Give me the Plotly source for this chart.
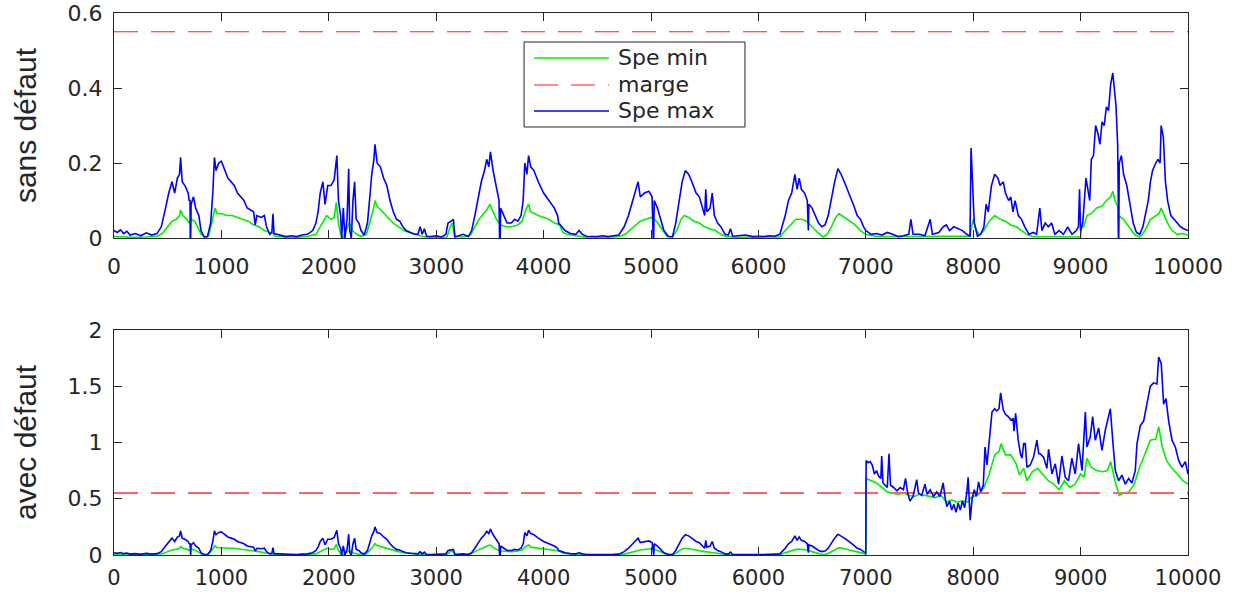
import plotly.graph_objects as go
from plotly.subplots import make_subplots

# --- Spe max (upper envelope), healthy run ---
sain_x_max = [0, 30, 60, 90, 120, 150, 200, 250, 300, 350, 400, 440, 480, 510, 540, 565, 590, 610, 620, 635,
              660, 690, 700, 708, 710, 714, 718, 740, 760, 790, 810, 840, 870, 900, 920, 935, 950, 975, 1000, 1030,
              1060, 1090, 1120, 1150, 1180, 1210, 1240, 1270, 1300, 1315, 1330, 1370, 1400, 1420, 1450, 1470, 1480,
              1490, 1550, 1600, 1650, 1700, 1750, 1800, 1850, 1880, 1900, 1920, 1945, 1965, 1990, 2020, 2050, 2075,
              2090, 2110, 2120, 2135, 2150, 2170, 2185, 2195, 2210, 2225, 2240, 2255, 2280, 2300, 2330, 2360, 2385,
              2400, 2420, 2430, 2450, 2480, 2510, 2540, 2570, 2600, 2630, 2660, 2690, 2720, 2760, 2800, 2830, 2850,
              2870, 2890, 2910, 2950, 3000, 3050, 3090, 3110, 3140, 3160, 3175, 3200, 3250, 3300, 3330, 3360, 3390,
              3420, 3450, 3470, 3490, 3505, 3530, 3555, 3585, 3590, 3596, 3600, 3630, 3660, 3700, 3730, 3760, 3790,
              3810, 3825, 3845, 3860, 3880, 3910, 3950, 4000, 4050, 4100, 4130, 4140, 4170, 4200, 4250, 4300, 4330,
              4360, 4400, 4450, 4500, 4550, 4600, 4650, 4700, 4750, 4790, 4830, 4860, 4880, 4900, 4940, 4980, 5010,
              5020, 5025, 5030, 5060, 5090, 5120, 5160, 5200, 5230, 5260, 5290, 5320, 5350, 5380, 5420, 5450, 5480,
              5500, 5510, 5520, 5550, 5570, 5590, 5620, 5650, 5690, 5720, 5740, 5760, 5820, 5880, 5950, 6000, 6050,
              6100, 6150, 6200, 6220, 6250, 6280, 6310, 6340, 6360, 6380, 6400, 6430, 6455, 6465, 6470, 6500, 6530,
              6560, 6590, 6620, 6650, 6680, 6710, 6740, 6770, 6800, 6830, 6860, 6890, 6920, 6950, 6980, 7000, 7050,
              7100, 7150, 7200, 7250, 7300, 7350, 7400, 7420, 7440, 7500, 7550, 7600, 7620, 7680, 7720, 7750, 7780,
              7820, 7860, 7900, 7940, 7970, 7980, 7995, 8010, 8040, 8070, 8100, 8120, 8140, 8170, 8200, 8230, 8250,
              8280, 8300, 8330, 8350, 8370, 8390, 8420, 8450, 8480, 8520, 8560, 8590, 8620, 8640, 8670, 8700, 8730,
              8760, 8800, 8840, 8880, 8920, 8960, 8980, 8990, 9000, 9020, 9050, 9070, 9085, 9100, 9120, 9140, 9160,
              9180, 9200, 9220, 9240, 9260, 9280, 9300, 9310, 9330, 9345, 9350, 9355, 9360, 9380, 9400, 9430, 9460,
              9490, 9520, 9550, 9580, 9610, 9630, 9650, 9670, 9700, 9720, 9740, 9750, 9770, 9790, 9810, 9840, 9870,
              9900, 9930, 9960, 10000]
sain_max = [0.02, 0.015, 0.022, 0.012, 0.018, 0.008, 0.012, 0.006, 0.014, 0.008, 0.012, 0.03, 0.08, 0.12, 0.15,
            0.12, 0.16, 0.17, 0.215, 0.15, 0.14, 0.12, 0.10, 0.10, 0.0, 0.0, 0.09, 0.11, 0.08, 0.06, 0.02, 0.003,
            0.004, 0.04, 0.12, 0.215, 0.18, 0.20, 0.205, 0.18, 0.16, 0.15, 0.14, 0.12, 0.11, 0.10, 0.08, 0.075,
            0.07, 0.035, 0.06, 0.055, 0.06, 0.03, 0.01, 0.015, 0.065, 0.012, 0.008, 0.004, 0.006, 0.004, 0.008,
            0.01, 0.02, 0.04, 0.07, 0.12, 0.15, 0.09, 0.14, 0.14, 0.155, 0.22, 0.10, 0.06, 0.0, 0.08, 0.0, 0.05,
            0.185, 0.02, 0.0, 0.10, 0.15, 0.05, 0.04, 0.02, 0.008, 0.04, 0.12, 0.17, 0.21, 0.25, 0.20, 0.19, 0.16,
            0.14, 0.10, 0.07, 0.05, 0.045, 0.03, 0.02, 0.015, 0.01, 0.01, 0.03, 0.01, 0.025, 0.005, 0.004, 0.006,
            0.003, 0.01, 0.04, 0.045, 0.05, 0.003, 0.005, 0.01, 0.004, 0.02, 0.06, 0.11, 0.15, 0.18, 0.21, 0.19,
            0.23, 0.18, 0.14, 0.10, 0.0, 0.0, 0.08, 0.06, 0.04, 0.04, 0.05, 0.045, 0.06, 0.10, 0.20, 0.17, 0.22,
            0.19, 0.18, 0.15, 0.12, 0.10, 0.08, 0.06, 0.04, 0.03, 0.02, 0.012, 0.01, 0.02, 0.01, 0.005, 0.004,
            0.004, 0.006, 0.004, 0.006, 0.008, 0.03, 0.06, 0.10, 0.13, 0.15, 0.11, 0.12, 0.125, 0.11, 0.0, 0.0,
            0.10, 0.08, 0.05, 0.02, 0.005, 0.003, 0.04, 0.09, 0.15, 0.18, 0.17, 0.15, 0.12, 0.11, 0.08, 0.06, 0.13,
            0.07, 0.08, 0.12, 0.06, 0.04, 0.03, 0.01, 0.008, 0.025, 0.005, 0.006, 0.008, 0.004, 0.005, 0.004,
            0.006, 0.005, 0.01, 0.03, 0.06, 0.10, 0.12, 0.17, 0.13, 0.16, 0.13, 0.12, 0.10, 0.02, 0.09, 0.08, 0.06,
            0.04, 0.03, 0.035, 0.06, 0.11, 0.15, 0.185, 0.17, 0.15, 0.13, 0.11, 0.085, 0.06, 0.05, 0.03, 0.02,
            0.01, 0.012, 0.008, 0.015, 0.01, 0.004, 0.006, 0.01, 0.05, 0.01, 0.01, 0.006, 0.05, 0.01, 0.015, 0.03,
            0.035, 0.02, 0.03, 0.025, 0.02, 0.01, 0.005, 0.24, 0.12, 0.04, 0.005, 0.01, 0.03, 0.09, 0.07, 0.14,
            0.17, 0.16, 0.14, 0.15, 0.12, 0.10, 0.11, 0.07, 0.10, 0.06, 0.05, 0.03, 0.01, 0.015, 0.01, 0.08, 0.02,
            0.04, 0.03, 0.04, 0.01, 0.02, 0.01, 0.03, 0.01, 0.02, 0.03, 0.13, 0.02, 0.04, 0.16, 0.12, 0.10, 0.21,
            0.22, 0.30, 0.28, 0.25, 0.31, 0.30, 0.35, 0.34, 0.41, 0.44, 0.41, 0.35, 0.25, 0.0, 0.0, 0.20, 0.22,
            0.17, 0.14, 0.09, 0.04, 0.015, 0.01, 0.03, 0.07, 0.10, 0.15, 0.18, 0.20, 0.21, 0.20, 0.30, 0.27, 0.15,
            0.10, 0.06, 0.05, 0.04, 0.03, 0.025, 0.02]

# --- Spe min (lower envelope), healthy run ---
sain_x_min = [0, 100, 200, 300, 400, 450, 500, 540, 580, 610, 620, 640, 680, 700, 720, 750, 780, 810, 850, 880,
              910, 940, 960, 1000, 1050, 1100, 1150, 1200, 1250, 1300, 1350, 1400, 1450, 1480, 1500, 1600, 1700,
              1800, 1880, 1920, 1950, 1980, 2020, 2050, 2070, 2090, 2110, 2130, 2160, 2190, 2220, 2260, 2300, 2350,
              2380, 2410, 2430, 2450, 2500, 2550, 2600, 2650, 2700, 2750, 2800, 2850, 2900, 3000, 3100, 3130, 3150,
              3170, 3250, 3320, 3360, 3400, 3440, 3470, 3500, 3530, 3560, 3600, 3650, 3700, 3760, 3800, 3840, 3860,
              3880, 3950, 4000, 4050, 4100, 4150, 4180, 4220, 4300, 4400, 4550, 4700, 4760, 4800, 4850, 4900, 4950,
              5000, 5050, 5100, 5150, 5200, 5240, 5280, 5310, 5350, 5400, 5450, 5500, 5550, 5600, 5650, 5700, 5800,
              6000, 6200, 6250, 6300, 6350, 6400, 6450, 6500, 6550, 6600, 6640, 6680, 6720, 6750, 6800, 6850, 6900,
              6950, 7000, 7100, 7300, 7500, 7700, 7900, 7970, 7985, 8000, 8030, 8060, 8100, 8150, 8200, 8250, 8300,
              8350, 8400, 8450, 8500, 8550, 8700, 8900, 9000, 9010, 9030, 9060, 9100, 9150, 9200, 9240, 9280, 9300,
              9320, 9345, 9350, 9355, 9400, 9450, 9500, 9550, 9600, 9650, 9700, 9730, 9750, 9780, 9810, 9850, 9900,
              9950, 10000]
sain_min = [0.004, 0.002, 0.002, 0.003, 0.005, 0.012, 0.03, 0.045, 0.05, 0.06, 0.075, 0.06, 0.05, 0.04, 0.05,
            0.045, 0.03, 0.01, 0.002, 0.005, 0.04, 0.08, 0.065, 0.065, 0.06, 0.06, 0.055, 0.05, 0.045, 0.035, 0.03,
            0.02, 0.015, 0.012, 0.005, 0.002, 0.002, 0.004, 0.01, 0.03, 0.045, 0.06, 0.05, 0.055, 0.095, 0.04,
            0.01, 0.0, 0.02, 0.04, 0.02, 0.01, 0.004, 0.01, 0.04, 0.07, 0.10, 0.085, 0.07, 0.055, 0.04, 0.03, 0.02,
            0.015, 0.01, 0.006, 0.003, 0.002, 0.003, 0.03, 0.04, 0.005, 0.003, 0.008, 0.03, 0.05, 0.065, 0.075,
            0.09, 0.07, 0.05, 0.035, 0.03, 0.03, 0.035, 0.045, 0.08, 0.09, 0.07, 0.06, 0.055, 0.05, 0.04, 0.035,
            0.015, 0.01, 0.006, 0.002, 0.002, 0.004, 0.01, 0.02, 0.035, 0.045, 0.05, 0.055, 0.045, 0.025, 0.004,
            0.003, 0.02, 0.05, 0.06, 0.055, 0.045, 0.04, 0.03, 0.025, 0.02, 0.01, 0.004, 0.002, 0.002, 0.003, 0.02,
            0.035, 0.05, 0.05, 0.045, 0.03, 0.015, 0.003, 0.01, 0.03, 0.055, 0.065, 0.055, 0.045, 0.035, 0.02,
            0.01, 0.004, 0.003, 0.004, 0.005, 0.004, 0.005, 0.03, 0.05, 0.02, 0.008, 0.02, 0.045, 0.06, 0.05,
            0.045, 0.035, 0.03, 0.02, 0.01, 0.004, 0.003, 0.002, 0.003, 0.03, 0.03, 0.06, 0.065, 0.08, 0.085, 0.10,
            0.11, 0.125, 0.10, 0.085, 0.0, 0.06, 0.05, 0.03, 0.01, 0.003, 0.02, 0.05, 0.06, 0.065, 0.08, 0.06,
            0.04, 0.02, 0.01, 0.012, 0.008]

# --- faulty run: identical up to t = 7000, then the fault appears ---
defaut_x_max = [7000, 7003, 7020, 7040, 7060, 7080, 7100, 7120, 7140, 7148, 7160, 7180, 7200, 7216, 7230, 7260,
                7290, 7320, 7350, 7370, 7390, 7411, 7440, 7474, 7490, 7520, 7551, 7570, 7600, 7630, 7660, 7690,
                7720, 7740, 7755, 7780, 7800, 7820, 7840, 7860, 7880, 7900, 7920, 7940, 7953, 7972, 7990, 8010,
                8030, 8050, 8070, 8094, 8110, 8128, 8150, 8175, 8200, 8220, 8240, 8255, 8280, 8300, 8326, 8350,
                8372, 8380, 8395, 8419, 8440, 8454, 8470, 8485, 8500, 8531, 8562, 8593, 8610, 8624, 8655, 8686,
                8702, 8733, 8764, 8795, 8826, 8857, 8888, 8919, 8950, 8981, 9013, 9044, 9059, 9090, 9112, 9137,
                9168, 9199, 9230, 9261, 9277, 9299, 9323, 9354, 9385, 9416, 9447, 9478, 9509, 9525, 9556, 9587,
                9618, 9649, 9680, 9711, 9727, 9751, 9773, 9795, 9820, 9851, 9882, 9913, 9944, 9975, 10000]
defaut_max = [0.02, 0.84, 0.82, 0.83, 0.80, 0.72, 0.75, 0.70, 0.68, 0.88, 0.64, 0.62, 0.60, 0.90, 0.62, 0.60,
              0.57, 0.60, 0.58, 0.68, 0.55, 0.48, 0.52, 0.67, 0.55, 0.53, 0.63, 0.54, 0.58, 0.52, 0.56, 0.52, 0.64,
              0.50, 0.43, 0.48, 0.40, 0.45, 0.38, 0.46, 0.40, 0.48, 0.42, 0.55, 0.69, 0.31, 0.50, 0.58, 0.52, 0.65,
              0.56, 0.62, 0.96, 0.80, 1.02, 1.27, 1.30, 1.28, 1.30, 1.44, 1.29, 1.25, 1.23, 1.20, 1.21, 1.10, 1.26,
              1.02, 0.90, 0.86, 0.99, 0.99, 0.78, 0.80, 0.87, 1.02, 0.90, 0.90, 0.87, 0.77, 0.94, 0.72, 0.81, 0.63,
              0.88, 0.69, 0.66, 0.86, 0.72, 0.99, 0.75, 1.27, 0.96, 1.05, 1.23, 1.02, 1.13, 0.93, 1.11, 1.22, 1.30,
              1.02, 0.75, 0.66, 0.71, 0.63, 0.68, 0.64, 0.75, 0.99, 1.15, 1.19, 1.36, 1.50, 1.53, 1.52, 1.76, 1.70,
              1.34, 1.39, 1.19, 1.02, 0.96, 0.84, 0.78, 0.83, 0.72]

defaut_x_min = [7000, 7003, 7050, 7100, 7150, 7200, 7250, 7300, 7350, 7400, 7450, 7500, 7550, 7600, 7650, 7700,
                7750, 7800, 7850, 7900, 7950, 7980, 8050, 8100, 8150, 8200, 8240, 8260, 8300, 8350, 8400, 8430,
                8470, 8500, 8550, 8600, 8650, 8700, 8750, 8800, 8850, 8900, 8950, 9000, 9030, 9060, 9100, 9150,
                9200, 9250, 9280, 9320, 9360, 9400, 9450, 9500, 9550, 9600, 9650, 9700, 9727, 9760, 9800, 9850,
                9900, 9950, 10000]
defaut_min = [0.01, 0.68, 0.66, 0.64, 0.60, 0.56, 0.55, 0.54, 0.55, 0.53, 0.52, 0.54, 0.53, 0.52, 0.51, 0.53,
              0.47, 0.49, 0.47, 0.48, 0.47, 0.51, 0.54, 0.60, 0.72, 0.89, 0.92, 0.99, 0.89, 0.89, 0.81, 0.71, 0.77,
              0.66, 0.74, 0.77, 0.71, 0.66, 0.63, 0.58, 0.66, 0.60, 0.63, 0.72, 0.69, 0.86, 0.78, 0.75, 0.74, 0.75,
              0.83, 0.66, 0.53, 0.55, 0.56, 0.63, 0.78, 0.90, 1.02, 1.03, 1.14, 0.96, 0.84, 0.77, 0.72, 0.66, 0.63]

marge = 0.55
x_range = [0, 10000]
x_ticks = list(range(0, 10001, 1000))
x_labels = [str(v) for v in x_ticks]
y_ticks_haut = [0, 0.2, 0.4, 0.6]
y_labels_haut = ["0", "0.2", "0.4", "0.6"]
y_ticks_bas = [0, 0.5, 1, 1.5, 2]
y_labels_bas = ["0", "0.5", "1", "1.5", "2"]
legend_labels = ["Spe min", "marge", "Spe max"]

# faulty series = shared healthy part before 7000 + fault part
av_x_max = [x for x in sain_x_max if x < 7000] + defaut_x_max
av_max = [v for x, v in zip(sain_x_max, sain_max) if x < 7000] + defaut_max
av_x_min = [x for x in sain_x_min if x < 7000] + defaut_x_min
av_min = [v for x, v in zip(sain_x_min, sain_min) if x < 7000] + defaut_min

GREEN = "#00f000"
BLUE = "#0000ff"
RED = "#ff1a1a"
TXT = "#262626"
DASH = "24px,13px"

fig = make_subplots(rows=2, cols=1, vertical_spacing=0.1695)

fig.add_trace(go.Scatter(x=sain_x_min, y=sain_min, mode="lines", name="Spe min",
                         line=dict(color=GREEN, width=1.6)), row=1, col=1)
fig.add_trace(go.Scatter(x=x_range, y=[marge, marge], mode="lines", name="marge",
                         line=dict(color=RED, width=1.2, dash=DASH)), row=1, col=1)
fig.add_trace(go.Scatter(x=sain_x_max, y=sain_max, mode="lines", name="Spe max",
                         line=dict(color=BLUE, width=1.6)), row=1, col=1)

fig.add_trace(go.Scatter(x=av_x_min, y=av_min, mode="lines", name="Spe min",
                         line=dict(color=GREEN, width=1.6)), row=2, col=1)
fig.add_trace(go.Scatter(x=x_range, y=[marge, marge], mode="lines", name="marge",
                         line=dict(color="#ff6464", width=2, dash=DASH)), row=2, col=1)
fig.add_trace(go.Scatter(x=av_x_max, y=av_max, mode="lines", name="Spe max",
                         line=dict(color=BLUE, width=1.6)), row=2, col=1)

axis_common = dict(showline=True, linecolor=TXT, linewidth=1, mirror="ticks", ticks="inside",
                   ticklen=8, tickcolor=TXT, showgrid=False, zeroline=False, automargin=False)
tick_font = dict(family="DejaVu Sans", size=22, color=TXT)
tick_font_bas = dict(family="DejaVu Sans", size=21, color=TXT)

fig.update_xaxes(range=x_range, tickvals=x_ticks, ticktext=x_labels, ticklabelstandoff=9,
                 tickfont=tick_font, row=1, col=1, **axis_common)
fig.update_xaxes(range=x_range, tickvals=x_ticks, ticktext=x_labels, ticklabelstandoff=4,
                 tickfont=tick_font_bas, row=2, col=1, **axis_common)

title_font = dict(family="Liberation Sans", size=30, color=TXT)
fig.update_yaxes(range=[0, 0.6], tickvals=y_ticks_haut, ticktext=y_labels_haut, row=1, col=1,
                 title=dict(text="sans défaut", standoff=22, font=title_font),
                 ticklabelstandoff=6, tickfont=tick_font, **axis_common)
fig.update_yaxes(range=[0, 2], tickvals=y_ticks_bas, ticktext=y_labels_bas, row=2, col=1,
                 title=dict(text="avec défaut", standoff=22, font=title_font),
                 ticklabelstandoff=6, tickfont=tick_font, **axis_common)

# legend box inside the upper axes (paper coordinates)
box_x0, box_x1 = 0.3818, 0.5875
box_y0, box_y1 = 0.7897, 0.9465
row_y = [0.9170, 0.8672, 0.8192]
sample_x0, sample_x1 = 0.3911, 0.4609
text_x = 0.4674
sample_styles = [dict(color=GREEN, width=1.6),
                 dict(color=RED, width=1.2, dash=DASH),
                 dict(color=BLUE, width=1.6)]

fig.add_shape(type="rect", xref="paper", yref="paper", x0=box_x0, x1=box_x1, y0=box_y0, y1=box_y1,
              line=dict(color=TXT, width=1), fillcolor="white", layer="above")
for label, yy, style in zip(legend_labels, row_y, sample_styles):
    fig.add_shape(type="line", xref="paper", yref="paper", x0=sample_x0, x1=sample_x1, y0=yy, y1=yy,
                  line=style, layer="above")
    fig.add_annotation(xref="paper", yref="paper", x=text_x, y=yy, text=label, showarrow=False,
                       xanchor="left", yanchor="middle",
                       font=dict(family="DejaVu Sans", size=22, color=TXT))

fig.update_layout(
    width=1234, height=592,
    margin=dict(l=114, r=46, t=13, b=37),
    paper_bgcolor="white", plot_bgcolor="white",
    showlegend=False,
)

fig.write_html("out.html")
